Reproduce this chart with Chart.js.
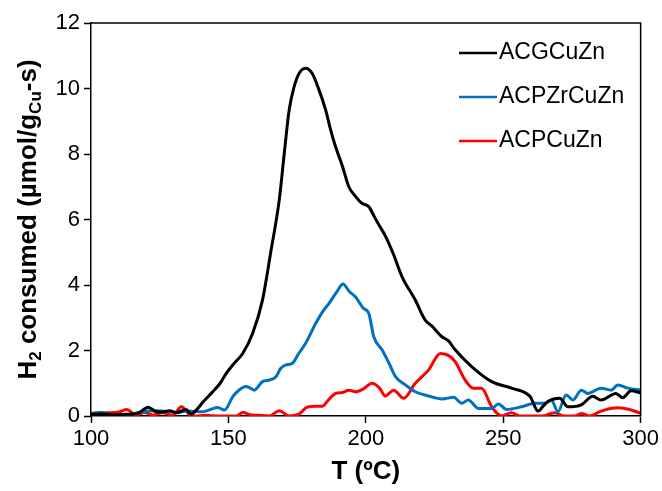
<!DOCTYPE html>
<html>
<head>
<meta charset="utf-8">
<script src="https://cdn.jsdelivr.net/npm/chart.js@4"></script>
<style>
  html, body { margin: 0; padding: 0; background: #fff; }
  #wrap { width: 662px; height: 491px; }
</style>
</head>
<body>
<div id="wrap"><canvas id="myChart" width="662" height="491"></canvas></div>
<script>
// temperatures (ºC) and H2 consumed values
const tempACG = [100, 104, 108, 113, 117, 120.8, 123.8, 126, 128.6, 131, 134.6, 136.4, 138.3, 141, 144.3, 147, 149.2, 152, 155.2, 158.8, 162.4, 165.4, 168.5, 170.3, 172.1, 173.9, 175.7, 178.1, 180.5, 183, 185.4, 187, 189, 191.4, 193.8, 196.3, 198.5, 201.1, 203, 205, 207.1, 210, 213.2, 218, 221.6, 224, 227.7, 230, 232.5, 238.5, 245.8, 253, 259.7, 262.7, 264.5, 266.3, 270.5, 273.6, 278.4, 282.6, 285.6, 291, 293.5, 296.5, 300];
const valACG  = [0.05, 0.06, 0.04, 0.05, 0.08, 0.27, 0.13, 0.12, 0.16, 0.1, 0.2, 0.06, 0.18, 0.45, 0.74, 1.0, 1.3, 1.6, 1.91, 2.52, 3.54, 5.0, 6.6, 8.0, 9.34, 10.05, 10.46, 10.62, 10.46, 9.95, 9.34, 8.8, 8.22, 7.65, 7.0, 6.7, 6.5, 6.39, 6.1, 5.8, 5.5, 4.95, 4.25, 3.54, 2.93, 2.75, 2.42, 2.3, 2.02, 1.51, 1.05, 0.85, 0.6, 0.15, 0.3, 0.44, 0.54, 0.28, 0.34, 0.6, 0.49, 0.69, 0.56, 0.77, 0.71];

const tempACPZr = [100, 103.6, 107, 113, 118.5, 123.8, 128, 131.1, 135, 140.7, 143.5, 146.1, 148.6, 151.6, 154, 156.4, 158, 159.4, 162.4, 165, 167.3, 169, 170.9, 173.3, 175.5, 178.1, 181.8, 184, 186.6, 189.5, 191.7, 194, 196.2, 199, 201.1, 202.9, 205.9, 208.5, 210.8, 214.4, 218, 222.8, 227.7, 231.9, 234.9, 237.3, 241, 245.8, 248.2, 251.2, 256.6, 261.5, 265.1, 267.5, 269.9, 272.9, 275.4, 278.4, 280.8, 285.6, 289.3, 291.7, 295.3, 300];
const valACPZr  = [0.05, 0.11, 0.04, 0.03, 0.13, 0.16, 0.14, 0.1, 0.15, 0.13, 0.2, 0.26, 0.18, 0.59, 0.8, 0.9, 0.85, 0.79, 1.05, 1.1, 1.2, 1.45, 1.56, 1.61, 1.9, 2.22, 2.83, 3.15, 3.44, 3.8, 4.03, 3.8, 3.64, 3.3, 3.13, 2.42, 2.02, 1.6, 1.2, 0.95, 0.74, 0.61, 0.52, 0.57, 0.39, 0.49, 0.23, 0.23, 0.37, 0.2, 0.28, 0.39, 0.39, 0.49, 0.13, 0.64, 0.49, 0.79, 0.69, 0.85, 0.79, 0.95, 0.85, 0.79];

const tempACP = [100, 103, 107, 110, 112.9, 116.5, 119.5, 122.5, 126.1, 129.7, 132.9, 135.9, 137.7, 141.9, 146, 150, 153, 155.2, 158, 161, 164.9, 168.5, 172.1, 175.5, 178.7, 181.5, 184.2, 186.5, 189, 191.5, 193.8, 196.2, 199, 202.3, 205, 207.1, 210.1, 213.8, 218, 222.8, 227.1, 230, 232.5, 236.1, 239.1, 242.1, 245.8, 249.4, 253, 256, 259.7, 264, 268.7, 272, 276, 278.4, 281.5, 285.6, 291.7, 296, 300];
const valACP  = [0.08, 0.1, 0.1, 0.12, 0.2, 0.03, 0.11, 0.03, 0.1, 0.02, 0.28, 0.04, 0, 0.02, 0, 0, 0, 0.11, 0.04, 0.02, 0, 0.16, 0, 0.05, 0.27, 0.3, 0.3, 0.5, 0.69, 0.72, 0.79, 0.74, 0.82, 1.0, 0.85, 0.61, 0.79, 0.54, 1.0, 1.4, 1.91, 1.85, 1.66, 1.1, 0.85, 0.85, 0.28, 0, 0.1, 0, 0, 0, 0.1, 0, 0, 0.08, 0, 0.15, 0.25, 0.2, 0.08];

const seriesNames = ['ACGCuZn', 'ACPZrCuZn', 'ACPCuZn'];
const seriesColors = ['#000000', '#0070C0', '#FF0000'];
const xTicks = [100, 150, 200, 250, 300];
const yTicks = [0, 2, 4, 6, 8, 10, 12];

function toPoints(xs, ys) {
  return xs.map((x, i) => ({ x: x, y: ys[i] }));
}

const fontName = "'Liberation Sans', Arial, sans-serif";

// border on top / right + y title with subscripts + legend inside plot
const extras = {
  id: 'extras',
  afterDraw(chart) {
    const ctx = chart.ctx;
    const a = chart.chartArea;
    ctx.save();
    ctx.strokeStyle = '#000';
    ctx.lineWidth = 1.5;
    ctx.beginPath();
    ctx.moveTo(a.left, a.top);
    ctx.lineTo(a.right, a.top);
    ctx.lineTo(a.right, a.bottom);
    ctx.stroke();

    // y title
    const parts = [
      { t: 'H', s: 26, dy: 0 },
      { t: '2', s: 17, dy: 7 },
      { t: ' consumed (', s: 26, dy: 0 },
      { t: 'µ', s: 26, dy: 0 },
      { t: 'mol/g', s: 26, dy: 0 },
      { t: 'Cu', s: 17, dy: 7 },
      { t: '-s)', s: 26, dy: 0 }
    ];
    let total = 0;
    parts.forEach(p => {
      ctx.font = 'bold ' + p.s + 'px ' + fontName;
      p.w = ctx.measureText(p.t).width;
      total += p.w;
    });
    ctx.translate(29, (a.top + a.bottom) / 2);
    ctx.rotate(-Math.PI / 2);
    ctx.fillStyle = '#000';
    ctx.textBaseline = 'middle';
    ctx.textAlign = 'left';
    let x = -total / 2;
    parts.forEach(p => {
      ctx.font = 'bold ' + p.s + 'px ' + fontName;
      ctx.fillText(p.t, x, p.dy);
      x += p.w;
    });
    ctx.restore();

    // legend
    ctx.save();
    ctx.font = '23px ' + fontName;
    ctx.textBaseline = 'middle';
    chart.data.datasets.forEach((ds, i) => {
      const y = a.top + 30 + i * 44;
      ctx.strokeStyle = ds.borderColor;
      ctx.lineWidth = 2.5;
      ctx.beginPath();
      ctx.moveTo(459, y);
      ctx.lineTo(497, y);
      ctx.stroke();
      ctx.fillStyle = '#000';
      ctx.fillText(ds.label, 499, y);
    });
    ctx.restore();
  }
};

const ctx = document.getElementById('myChart').getContext('2d');
const chart = new Chart(ctx, {
  type: 'line',
  data: {
    datasets: [
      { label: seriesNames[0], data: toPoints(tempACG, valACG), borderColor: seriesColors[0] },
      { label: seriesNames[1], data: toPoints(tempACPZr, valACPZr), borderColor: seriesColors[1] },
      { label: seriesNames[2], data: toPoints(tempACP, valACP), borderColor: seriesColors[2] }
    ]
  },
  options: {
    responsive: false,
    animation: false,
    layout: { padding: { left: 0, right: 19, top: 23, bottom: 0 } },
    elements: {
      point: { radius: 0 },
      line: { borderWidth: 3, tension: 0.4, cubicInterpolationMode: 'monotone', borderCapStyle: 'round', borderJoinStyle: 'round' }
    },
    plugins: { legend: { display: false }, tooltip: { enabled: false } },
    scales: {
      x: {
        type: 'linear',
        min: 100, max: 300,
        afterBuildTicks: s => { s.ticks = xTicks.map(v => ({ value: v })); },
        afterFit: s => { s.height = 75; },
        grid: { drawOnChartArea: false, tickLength: 7, color: '#000', tickWidth: 1.5 },
        border: { color: '#000', width: 1.5 },
        ticks: { color: '#000', font: { family: fontName, size: 22 }, padding: 3, maxRotation: 0 },
        title: { display: true, text: 'T (ºC)', color: '#000', font: { family: fontName, size: 26, weight: 'bold' }, padding: { top: 2 } }
      },
      y: {
        min: 0, max: 12,
        afterBuildTicks: s => { s.ticks = yTicks.map(v => ({ value: v })); },
        afterFit: s => { s.width = 91; },
        grid: { drawOnChartArea: false, tickLength: 7, color: '#000', tickWidth: 1.5 },
        border: { color: '#000', width: 1.5 },
        ticks: { color: '#000', font: { family: fontName, size: 22 }, padding: 4 }
      }
    }
  },
  plugins: [extras]
});
</script>
</body>
</html>
